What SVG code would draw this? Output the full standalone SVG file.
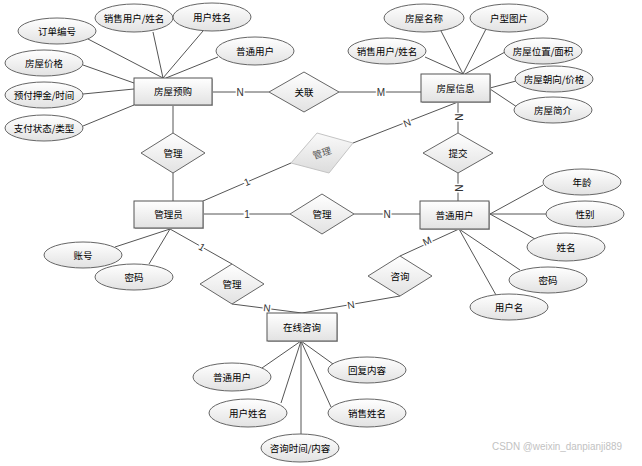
<svg xmlns="http://www.w3.org/2000/svg" width="642" height="466" viewBox="0 0 642 466">
<defs>
<linearGradient id="gShape" x1="0" y1="0" x2="0" y2="1">
<stop offset="0" stop-color="#ffffff"/>
<stop offset="1" stop-color="#e2e2e2"/>
</linearGradient>
<linearGradient id="gGray" x1="0" y1="0" x2="0" y2="1">
<stop offset="0" stop-color="#fafafa"/>
<stop offset="1" stop-color="#dcdcdc"/>
</linearGradient>
</defs>
<style>
.ent{fill:url(#gShape);stroke:#555;stroke-width:1}
.sh{fill:#b8b8b8}
.att{fill:url(#gShape);stroke:#666;stroke-width:1}
.rel{fill:url(#gShape);stroke:#666;stroke-width:1}
.relg{fill:url(#gGray);stroke:#c4c4c4;stroke-width:1}
.t{font-family:"Noto Sans CJK SC","Liberation Sans",sans-serif;font-size:9.5px;fill:#000;text-anchor:middle}
.tg{font-family:"Noto Sans CJK SC","Liberation Sans",sans-serif;font-size:9.5px;fill:#555;text-anchor:middle}
.ln{stroke:#555;stroke-width:1;fill:none}
.lb{font-family:"Liberation Sans",sans-serif;font-size:10px;fill:#333;text-anchor:middle;stroke:#fff;stroke-width:3;paint-order:stroke}
.wm{font-family:"Liberation Sans",sans-serif;font-size:10px;fill:#c2c2c2}
</style>
<rect width="642" height="466" fill="#fff"/>

<g id="connectors">
<line class="ln" x1="88" y1="39" x2="163" y2="78"/>
<line class="ln" x1="153" y1="32" x2="163" y2="78"/>
<line class="ln" x1="203" y1="31" x2="163" y2="78"/>
<line class="ln" x1="218" y1="57" x2="166" y2="78"/>
<line class="ln" x1="83" y1="65" x2="134" y2="83"/>
<line class="ln" x1="83" y1="94" x2="134" y2="89"/>
<line class="ln" x1="83" y1="126" x2="134" y2="105"/>
<line class="ln" x1="212" y1="92" x2="269" y2="92"/>
<line class="ln" x1="339" y1="92" x2="421" y2="92"/>
<line class="ln" x1="173" y1="105" x2="173" y2="133"/>
<line class="ln" x1="173" y1="173" x2="173" y2="201"/>
<line class="ln" x1="425" y1="57" x2="463" y2="74"/>
<line class="ln" x1="441" y1="31" x2="463" y2="74"/>
<line class="ln" x1="486" y1="29" x2="463" y2="74"/>
<line class="ln" x1="505" y1="52" x2="465" y2="74"/>
<line class="ln" x1="516" y1="81" x2="490" y2="88"/>
<line class="ln" x1="517" y1="107" x2="490" y2="89"/>
<line class="ln" x1="458" y1="102" x2="458" y2="133"/>
<line class="ln" x1="458" y1="173" x2="458" y2="201"/>
<line class="ln" x1="458" y1="102" x2="353" y2="143"/>
<line class="ln" x1="291" y1="163" x2="203" y2="201"/>
<line class="ln" x1="203" y1="214" x2="290" y2="214"/>
<line class="ln" x1="354" y1="214" x2="420" y2="214"/>
<line class="ln" x1="170" y1="229" x2="115" y2="247"/>
<line class="ln" x1="170" y1="229" x2="149" y2="264"/>
<line class="ln" x1="170" y1="229" x2="232" y2="264"/>
<line class="ln" x1="232" y1="304" x2="302" y2="313"/>
<line class="ln" x1="400" y1="296" x2="302" y2="313"/>
<line class="ln" x1="400" y1="256" x2="459" y2="229"/>
<line class="ln" x1="490" y1="214" x2="543" y2="185"/>
<line class="ln" x1="490" y1="214" x2="546" y2="214"/>
<line class="ln" x1="490" y1="214" x2="535" y2="239"/>
<line class="ln" x1="459" y1="229" x2="520" y2="270"/>
<line class="ln" x1="459" y1="229" x2="496" y2="295"/>
<line class="ln" x1="301" y1="341" x2="262" y2="368"/>
<line class="ln" x1="301" y1="341" x2="281" y2="403"/>
<line class="ln" x1="301" y1="341" x2="301" y2="434"/>
<line class="ln" x1="301" y1="341" x2="331" y2="407"/>
<line class="ln" x1="301" y1="341" x2="333" y2="364"/>
<text class="lb" x="240" y="96">N</text>
<text class="lb" x="381" y="96">M</text>
<text class="lb" transform="translate(458,117) rotate(90)" y="3.5">N</text>
<text class="lb" transform="translate(458,188) rotate(90)" y="3.5">N</text>
<text class="lb" transform="translate(407,123) rotate(-21)" y="3.5">N</text>
<text class="lb" transform="translate(247,182) rotate(-23)" y="3.5">1</text>
<text class="lb" x="247" y="218">1</text>
<text class="lb" x="387" y="218">N</text>
<text class="lb" transform="translate(202,247) rotate(30)" y="3.5">1</text>
<text class="lb" transform="translate(267,308) rotate(7)" y="3.5">N</text>
<text class="lb" transform="translate(351,305) rotate(-10)" y="3.5">N</text>
<text class="lb" transform="translate(427,241) rotate(-25)" y="3.5">M</text>
</g>

<g id="e-fwyg"><rect class="sh" x="135" y="79" width="78" height="27"/><rect class="ent" x="134" y="78" width="78" height="27"/><text class="t" x="173" y="95">房屋预购</text></g>
<g id="e-fwxx"><rect class="sh" x="422" y="75" width="69" height="28"/><rect class="ent" x="421" y="74" width="69" height="28"/><text class="t" x="455.5" y="91.5">房屋信息</text></g>
<g id="e-gly"><rect class="sh" x="135" y="202" width="69" height="27"/><rect class="ent" x="134" y="201" width="69" height="27"/><text class="t" x="168.5" y="218">管理员</text></g>
<g id="e-ptyh"><rect class="sh" x="421" y="202" width="69" height="28"/><rect class="ent" x="420" y="201" width="69" height="28"/><text class="t" x="454.5" y="218.5">普通用户</text></g>
<g id="e-zxzx"><rect class="sh" x="268" y="314" width="70" height="28"/><rect class="ent" x="267" y="313" width="70" height="28"/><text class="t" x="302" y="330.5">在线咨询</text></g>

<g id="r-guanlian"><polygon class="rel" points="269,92 304,72 339,92 304,112"/><text class="t" x="304" y="95.5">关联</text></g>
<g id="r-guanli1"><polygon class="rel" points="141,153 173,133 205,153 173,173"/><text class="t" x="173" y="156.5">管理</text></g>
<g id="r-guanli2"><polygon class="relg" points="317,133 353,143 329,173 291,163"/><text class="tg" transform="translate(322,153) rotate(-18)" y="3.5">管理</text></g>
<g id="r-tijiao"><polygon class="rel" points="423,153 458,133 493,153 458,173"/><text class="t" x="458" y="156.5">提交</text></g>
<g id="r-guanli3"><polygon class="rel" points="290,214 322,194 354,214 322,234"/><text class="t" x="322" y="217.5">管理</text></g>
<g id="r-guanli4"><polygon class="rel" points="200,284 232,264 264,284 232,304"/><text class="t" x="232" y="287.5">管理</text></g>
<g id="r-zixun"><polygon class="rel" points="368,276 400,256 432,276 400,296"/><text class="t" x="400" y="279.5">咨询</text></g>

<g id="a-ddbh"><ellipse class="att" cx="57" cy="31" rx="39" ry="13"/><text class="t" x="57" y="34.5">订单编号</text></g>
<g id="a-xsyh1"><ellipse class="att" cx="134" cy="18" rx="39" ry="14"/><text class="t" x="134" y="21.5">销售用户/姓名</text></g>
<g id="a-yhxm1"><ellipse class="att" cx="212" cy="17" rx="39" ry="14"/><text class="t" x="212" y="20.5">用户姓名</text></g>
<g id="a-ptyh1"><ellipse class="att" cx="255" cy="51" rx="39" ry="14"/><text class="t" x="255" y="54.5">普通用户</text></g>
<g id="a-fwjg"><ellipse class="att" cx="44" cy="63" rx="39" ry="13"/><text class="t" x="44" y="66.5">房屋价格</text></g>
<g id="a-yfyj"><ellipse class="att" cx="44" cy="95" rx="39" ry="13"/><text class="t" x="44" y="98.5">预付押金/时间</text></g>
<g id="a-zfzt"><ellipse class="att" cx="44" cy="128" rx="39" ry="13"/><text class="t" x="44" y="131.5">支付状态/类型</text></g>
<g id="a-fwmc"><ellipse class="att" cx="424" cy="18" rx="40" ry="14"/><text class="t" x="424" y="21.5">房屋名称</text></g>
<g id="a-hxtp"><ellipse class="att" cx="509" cy="18" rx="39" ry="14"/><text class="t" x="509" y="21.5">户型图片</text></g>
<g id="a-xsyh2"><ellipse class="att" cx="387" cy="51" rx="39" ry="13"/><text class="t" x="387" y="54.5">销售用户/姓名</text></g>
<g id="a-fwwz"><ellipse class="att" cx="543" cy="51" rx="39" ry="13"/><text class="t" x="543" y="54.5">房屋位置/面积</text></g>
<g id="a-fwcx"><ellipse class="att" cx="554" cy="79" rx="39" ry="13"/><text class="t" x="554" y="82.5">房屋朝向/价格</text></g>
<g id="a-fwjj"><ellipse class="att" cx="553" cy="110" rx="39" ry="13"/><text class="t" x="553" y="113.5">房屋简介</text></g>
<g id="a-nl"><ellipse class="att" cx="582" cy="182" rx="39" ry="13"/><text class="t" x="582" y="185.5">年龄</text></g>
<g id="a-xb"><ellipse class="att" cx="585" cy="214" rx="39" ry="13"/><text class="t" x="585" y="217.5">性别</text></g>
<g id="a-xm"><ellipse class="att" cx="566" cy="247" rx="39" ry="14"/><text class="t" x="566" y="250.5">姓名</text></g>
<g id="a-mm2"><ellipse class="att" cx="548" cy="280" rx="39" ry="13"/><text class="t" x="548" y="283.5">密码</text></g>
<g id="a-yhm"><ellipse class="att" cx="509" cy="307" rx="39" ry="13"/><text class="t" x="509" y="310.5">用户名</text></g>
<g id="a-zh"><ellipse class="att" cx="83" cy="255" rx="39" ry="13"/><text class="t" x="83" y="258.5">账号</text></g>
<g id="a-mm1"><ellipse class="att" cx="134" cy="277" rx="39" ry="13"/><text class="t" x="134" y="280.5">密码</text></g>
<g id="a-ptyh2"><ellipse class="att" cx="232" cy="377" rx="39" ry="14"/><text class="t" x="232" y="380.5">普通用户</text></g>
<g id="a-yhxm2"><ellipse class="att" cx="248" cy="413" rx="39" ry="14"/><text class="t" x="248" y="416.5">用户姓名</text></g>
<g id="a-zxsj"><ellipse class="att" cx="300" cy="448" rx="39" ry="14"/><text class="t" x="300" y="451.5">咨询时间/内容</text></g>
<g id="a-hfnr"><ellipse class="att" cx="367" cy="370" rx="39" ry="13"/><text class="t" x="367" y="373.5">回复内容</text></g>
<g id="a-xsxm"><ellipse class="att" cx="367" cy="413" rx="39" ry="14"/><text class="t" x="367" y="416.5">销售姓名</text></g>

<text class="wm" x="492" y="450" textLength="130" lengthAdjust="spacingAndGlyphs">CSDN @weixin_danpianji889</text>
</svg>
